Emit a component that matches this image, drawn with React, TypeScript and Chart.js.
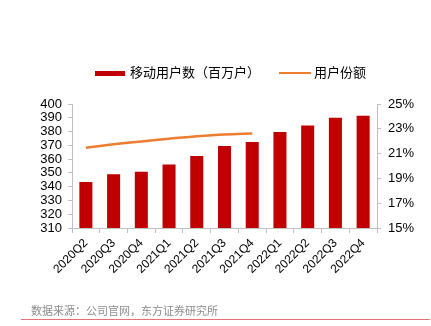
import React, { useEffect, useRef } from "react";
import { Chart, registerables } from "chart.js";

Chart.register(...registerables);

const categories = ["2020Q2", "2020Q3", "2020Q4", "2021Q1", "2021Q2", "2021Q3", "2021Q4", "2022Q1", "2022Q2", "2022Q3", "2022Q4"];
const mobileUsers = [343.3, 349, 350.8, 356, 362.3, 369.5, 372.4, 379.6, 384.4, 390.1, 391.4];
const userShare = [21.48, 21.75, 21.98, 22.2, 22.4, 22.55, 22.63, null, null, null, null];
const barLabel = "移动用户数（百万户）";
const lineLabel = "用户份额";
const sourceText = "数据来源：公司官网，东方证券研究所";

const BAR_COLOR = "#C00000";
const LINE_COLOR = "#ED7D31";
const AXIS_COLOR = "#BFBFBF";
const FONT = "'Liberation Sans', Arial, sans-serif";
const CJK = "'Noto Sans CJK SC', sans-serif";

export default function App() {
  const ref = useRef<HTMLCanvasElement | null>(null);

  useEffect(() => {
    document.body.style.margin = "0";
    const canvas = ref.current;
    if (!canvas) return;
    const chart = new Chart(canvas, {
      type: "bar",
      data: {
        labels: categories,
        datasets: [
          {
            type: "bar",
            label: barLabel,
            data: mobileUsers,
            backgroundColor: BAR_COLOR,
            yAxisID: "y",
            barPercentage: 0.47,
            categoryPercentage: 1,
            order: 2,
          },
          {
            type: "line",
            label: lineLabel,
            data: userShare as any,
            borderColor: LINE_COLOR,
            backgroundColor: LINE_COLOR,
            borderWidth: 2.5,
            pointRadius: 0,
            tension: 0.3,
            yAxisID: "y1",
            order: 1,
          },
        ],
      },
      options: {
        responsive: false,
        animation: false,
        layout: { padding: { top: 104, left: 0, right: 0, bottom: 0 } },
        plugins: {
          legend: { display: false },
          tooltip: { enabled: false },
        },
        scales: {
          x: {
            afterFit: (s: any) => {
              s.height = 98;
            },
            grid: { drawOnChartArea: false, drawTicks: true, tickLength: 5, color: AXIS_COLOR, offset: true },
            border: { color: AXIS_COLOR },
            ticks: {
              autoSkip: false,
              maxRotation: 45,
              minRotation: 45,
              padding: 3,
              color: "#000",
              font: { family: FONT, size: 12 },
            },
          },
          y: {
            position: "left",
            min: 310,
            max: 400,
            afterFit: (s: any) => {
              s.width = 72;
            },
            grid: { drawOnChartArea: false, drawTicks: true, tickLength: 4, color: AXIS_COLOR },
            border: { color: AXIS_COLOR },
            ticks: {
              autoSkip: false,
              stepSize: 10,
              padding: 6,
              color: "#000",
              font: { family: FONT, size: 13 },
            },
          },
          y1: {
            position: "right",
            min: 15,
            max: 25,
            afterFit: (s: any) => {
              s.width = 54;
            },
            grid: { drawOnChartArea: false, drawTicks: true, tickLength: 4, color: AXIS_COLOR },
            border: { color: AXIS_COLOR },
            ticks: {
              autoSkip: false,
              stepSize: 2,
              padding: 7,
              color: "#000",
              font: { family: FONT, size: 13 },
              callback: (v: any) => `${v}%`,
            },
          },
        },
      },
    });
    return () => chart.destroy();
  }, []);

  return (
    <div style={{ position: "relative", width: 431, height: 326, background: "#fff", overflow: "hidden" }}>
      <canvas ref={ref} width={431} height={326} style={{ position: "absolute", left: 0, top: 0, width: 431, height: 326 }} />
      <div style={{ position: "absolute", left: 95, top: 71, width: 30, height: 5, background: BAR_COLOR }} />
      <div style={{ position: "absolute", left: 130, top: 63, fontFamily: CJK, fontSize: 13, lineHeight: "18px", color: "#000", whiteSpace: "nowrap" }}>
        {barLabel}
      </div>
      <div style={{ position: "absolute", left: 279, top: 72, width: 32, height: 2, background: LINE_COLOR }} />
      <div style={{ position: "absolute", left: 314, top: 63, fontFamily: CJK, fontSize: 13, lineHeight: "18px", color: "#000", whiteSpace: "nowrap" }}>
        {lineLabel}
      </div>
      <div style={{ position: "absolute", left: 31, top: 302, fontFamily: CJK, fontSize: 11, lineHeight: "16px", color: "#8c8c8c", whiteSpace: "nowrap" }}>
        {sourceText}
      </div>
      <div style={{ position: "absolute", left: 21, top: 319, width: 409, height: 1, background: "#E57373" }} />
    </div>
  );
}
